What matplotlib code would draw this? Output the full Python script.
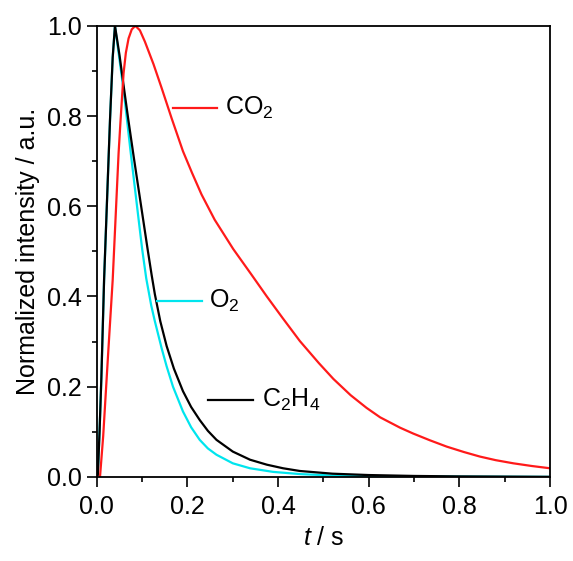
import matplotlib
matplotlib.use('Agg')
import matplotlib.pyplot as plt
from matplotlib.ticker import MultipleLocator

plt.rcParams['font.family'] = ['Liberation Sans', 'DejaVu Sans']
plt.rcParams['mathtext.fontset'] = 'custom'
plt.rcParams['mathtext.rm'] = 'Liberation Sans'
plt.rcParams['mathtext.it'] = 'Liberation Sans:italic'

# values
t_c2h4 = [0.0, 0.002, 0.006, 0.010, 0.016, 0.022, 0.029, 0.035, 0.040,
          0.050, 0.059, 0.069, 0.081, 0.091, 0.103, 0.112, 0.121, 0.128,
          0.140, 0.154, 0.170, 0.190, 0.208, 0.227, 0.245, 0.264, 0.300,
          0.338, 0.375, 0.411, 0.448, 0.520, 0.600, 0.700, 0.800, 1.000]
y_c2h4 = [0.0, 0.0, 0.10, 0.22, 0.437, 0.60, 0.79, 0.93, 1.0,
          0.935, 0.868, 0.795, 0.712, 0.645, 0.565, 0.505, 0.447, 0.405,
          0.345, 0.29, 0.24, 0.19, 0.155, 0.126, 0.102, 0.082, 0.056,
          0.038, 0.027, 0.019, 0.013, 0.007, 0.004, 0.002, 0.001, 0.0]

t_o2 = [0.0, 0.002, 0.006, 0.010, 0.016, 0.022, 0.029, 0.035, 0.040,
        0.050, 0.060, 0.074, 0.084, 0.092, 0.100, 0.109, 0.120, 0.128,
        0.143, 0.154, 0.168, 0.190, 0.208, 0.227, 0.245, 0.264, 0.300,
        0.338, 0.389, 0.450, 0.520, 0.600, 0.700, 1.000]
y_o2 = [0.0, 0.0, 0.10, 0.22, 0.437, 0.60, 0.79, 0.93, 1.0,
        0.925, 0.85, 0.725, 0.64, 0.572, 0.505, 0.44, 0.38, 0.345,
        0.285, 0.245, 0.20, 0.145, 0.11, 0.082, 0.063, 0.049, 0.030,
        0.019, 0.011, 0.006, 0.003, 0.0015, 0.001, 0.0]

t_co2 = [0.0, 0.007, 0.014, 0.025, 0.035, 0.040, 0.048, 0.052, 0.059,
         0.064, 0.070, 0.077, 0.085, 0.095, 0.106, 0.125, 0.143, 0.165,
         0.190, 0.210, 0.231, 0.260, 0.301, 0.340, 0.375, 0.410,
         0.448, 0.490, 0.522, 0.560, 0.595, 0.625, 0.669, 0.698, 0.735,
         0.772, 0.810, 0.845, 0.880, 0.919, 0.960, 1.000]
y_co2 = [0.0, 0.0, 0.09, 0.274, 0.437, 0.545, 0.718, 0.785, 0.895,
         0.94, 0.972, 0.992, 1.0, 0.99, 0.965, 0.915, 0.862, 0.795,
         0.722, 0.674, 0.626, 0.570, 0.505, 0.450, 0.400, 0.352,
         0.301, 0.252, 0.217, 0.181, 0.153, 0.132, 0.109, 0.096, 0.081,
         0.067, 0.055, 0.045, 0.037, 0.030, 0.024, 0.019]

cyan = '#00e5ee'
red = '#ff1a1a'

fig = plt.figure(figsize=(5.73, 5.61), dpi=100)
ax = fig.add_axes([0.169, 0.150, 0.791, 0.804])

ax.plot(t_o2, y_o2, color=cyan, lw=1.6, solid_joinstyle='round')
ax.plot(t_c2h4, y_c2h4, color='black', lw=1.6, solid_joinstyle='round')
ax.plot(t_co2, y_co2, color=red, lw=1.6, solid_joinstyle='round')

# leader lines + labels
ax.plot([0.168, 0.265], [0.818, 0.818], color=red, lw=1.6)
ax.text(0.283, 0.818, 'CO$_2$', fontsize=18, va='center', ha='left')
ax.plot([0.132, 0.232], [0.390, 0.390], color=cyan, lw=1.6)
ax.text(0.247, 0.390, 'O$_2$', fontsize=18, va='center', ha='left')
ax.plot([0.245, 0.344], [0.171, 0.171], color='black', lw=1.6)
ax.text(0.364, 0.171, 'C$_2$H$_4$', fontsize=18, va='center', ha='left')

ax.set_xlim(0, 1)
ax.set_ylim(0, 1)
ax.xaxis.set_major_locator(MultipleLocator(0.2))
ax.xaxis.set_minor_locator(MultipleLocator(0.1))
ax.yaxis.set_major_locator(MultipleLocator(0.2))
ax.yaxis.set_minor_locator(MultipleLocator(0.1))
ax.tick_params(which='major', direction='out', length=7, width=1.2, labelsize=18)
ax.tick_params(which='minor', direction='out', length=3.5, width=1.2)
ax.tick_params(axis='x', pad=6)
ax.tick_params(axis='y', pad=4)
for s in ax.spines.values():
    s.set_linewidth(1.3)

ax.set_xlabel('$t$ / s', fontsize=18, labelpad=5)
ax.set_ylabel('Normalized intensity / a.u.', fontsize=18, labelpad=5)

fig.savefig('out.png', dpi=100)
